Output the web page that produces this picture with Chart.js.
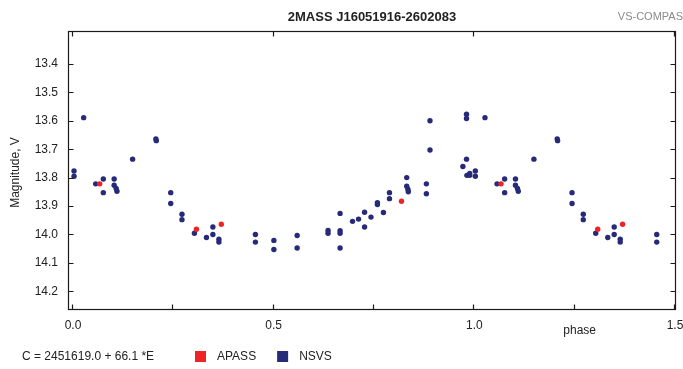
<!DOCTYPE html>
<html>
<head>
<meta charset="utf-8">
<title>2MASS J16051916-2602083</title>
<script src="https://cdn.jsdelivr.net/npm/chart.js@4.4.1/dist/chart.umd.min.js"></script>
<style>
  html, body { margin: 0; padding: 0; background: #fff; }
  #wrap { width: 683px; height: 369px; }
</style>
</head>
<body>
<div id="wrap"><canvas id="lc" width="683" height="369"></canvas></div>
<script>
const titleText = '2MASS J16051916-2602083';
const brandText = 'VS-COMPAS';
const yTitle = 'Magnitude, V';
const xTitle = 'phase';
const ephemText = 'C = 2451619.0 + 66.1 *E';

// phase folded data (phase 0..1), points below 0.5 repeat at phase + 1
const nsvsPhase = [0.005, 0.005, 0.029, 0.059, 0.078, 0.078, 0.105, 0.105, 0.110, 0.112,
  0.151, 0.209, 0.210, 0.246, 0.246, 0.274, 0.274, 0.305, 0.335, 0.351, 0.351, 0.366, 0.366,
  0.457, 0.457, 0.503, 0.503, 0.561, 0.561, 0.638, 0.638, 0.668, 0.668, 0.668, 0.668,
  0.699, 0.714, 0.729, 0.729, 0.745, 0.761, 0.761, 0.776, 0.791, 0.791,
  0.834, 0.834, 0.837, 0.838, 0.883, 0.883, 0.892, 0.892,
  0.974, 0.983, 0.983, 0.983, 0.984, 0.991, 0.991];
const nsvsMag = [13.777, 13.795, 13.589, 13.822, 13.805, 13.853, 13.805, 13.827, 13.838, 13.848,
  13.735, 13.664, 13.670, 13.853, 13.891, 13.929, 13.948, 13.996, 14.011, 13.974, 14.000, 14.017, 14.027,
  14.000, 14.027, 14.021, 14.053, 14.004, 14.048, 13.986, 13.996, 13.926, 13.987, 13.996, 14.048,
  13.954, 13.946, 13.922, 13.974, 13.939, 13.888, 13.895, 13.923, 13.853, 13.874,
  13.800, 13.830, 13.841, 13.850, 13.822, 13.857, 13.600, 13.703,
  13.761, 13.735, 13.577, 13.592, 13.792, 13.785, 13.792];
const apassPhase = [0.069, 0.310, 0.372, 0.821];
const apassMag = [13.822, 13.982, 13.964, 13.883];

const yTicks = [13.4, 13.5, 13.6, 13.7, 13.8, 13.9, 14.0, 14.1, 14.2];
const xMajor = [0.0, 0.5, 1.0, 1.5];
const xMinor = [0.25, 0.75, 1.25];

const navy = '#262a78';
const red = '#ee2326';
const font = '"Liberation Sans", Arial, sans-serif';

function fold(phases, mags) {
    const pts = [];
    for (let i = 0; i < phases.length; i++) {
        pts.push({ x: phases[i], y: mags[i] });
        if (phases[i] + 1 <= 1.5) pts.push({ x: phases[i] + 1, y: mags[i] });
    }
    return pts;
}

const framePlugin = {
    id: 'frame',
    afterDraw(chart) {
        const { ctx, chartArea: a, scales } = chart;
        const xs = scales.x, ys = scales.y;
        const L = Math.round(a.left) + 0.5, R = Math.round(a.right) - 0.5;
        const T = Math.round(a.top) + 0.5, B = Math.round(a.bottom) - 0.5;
        ctx.save();
        ctx.strokeStyle = '#1a1a1a';
        ctx.lineWidth = 1.2;
        ctx.strokeRect(L, T, R - L, B - T);

        ctx.beginPath();
        yTicks.forEach(v => {
            const py = Math.round(ys.getPixelForValue(v)) + 0.5;
            ctx.moveTo(L, py); ctx.lineTo(L + 5, py);
            ctx.moveTo(R, py); ctx.lineTo(R - 5, py);
        });
        xMajor.forEach(v => {
            const px = Math.round(xs.getPixelForValue(v)) + 0.5;
            ctx.moveTo(px, B); ctx.lineTo(px, B - 5);
            ctx.moveTo(px, T); ctx.lineTo(px, T + 5);
        });
        xMinor.forEach(v => {
            const px = Math.round(xs.getPixelForValue(v)) + 0.5;
            ctx.moveTo(px, B); ctx.lineTo(px, B - 5);
        });
        ctx.stroke();

        // tick labels
        ctx.fillStyle = '#222';
        ctx.font = '12px ' + font;
        ctx.textAlign = 'right';
        ctx.textBaseline = 'middle';
        yTicks.forEach(v => {
            ctx.fillText(v.toFixed(1), a.left - 10, ys.getPixelForValue(v));
        });
        ctx.textAlign = 'center';
        xMajor.forEach(v => {
            ctx.fillText(v.toFixed(1), xs.getPixelForValue(v) + 1, a.bottom + 16);
        });
        ctx.fillText(xTitle, xs.getPixelForValue(1.265), a.bottom + 21);

        // axis title
        ctx.save();
        ctx.translate(16, (a.top + a.bottom) / 2 + 2);
        ctx.rotate(-Math.PI / 2);
        ctx.fillText(yTitle, 0, 0);
        ctx.restore();

        // chart title and brand
        ctx.font = 'bold 13px ' + font;
        ctx.fillText(titleText, (a.left + a.right) / 2, 17);
        ctx.font = '11px ' + font;
        ctx.fillStyle = '#8a8a8a';
        ctx.textAlign = 'right';
        ctx.fillText(brandText, 683, 17);

        // ephemeris + legend
        ctx.fillStyle = '#222';
        ctx.font = '12px ' + font;
        ctx.textAlign = 'left';
        const ly = 357;
        ctx.fillText(ephemText, 22, ly);
        let lx = 195;
        chart.data.datasets.forEach(ds => {
            ctx.fillStyle = ds.backgroundColor;
            ctx.fillRect(lx, ly - 6, 11, 11);
            ctx.fillStyle = '#222';
            ctx.fillText(ds.label, lx + 22, ly);
            lx += 22 + ctx.measureText(ds.label).width + 21;
        });
        ctx.restore();
    }
};

new Chart(document.getElementById('lc'), {
    type: 'scatter',
    data: {
        datasets: [
            {
                label: 'APASS',
                data: fold(apassPhase, apassMag),
                backgroundColor: red,
                borderWidth: 0,
                pointRadius: 2.7
            },
            {
                label: 'NSVS',
                data: fold(nsvsPhase, nsvsMag),
                backgroundColor: navy,
                borderWidth: 0,
                pointRadius: 2.7
            }
        ]
    },
    options: {
        responsive: false,
        animation: false,
        layout: {
            padding: { left: 68, top: 31, right: 7, bottom: 59 }
        },
        scales: {
            x: { type: 'linear', display: false, min: -0.01, max: 1.505 },
            y: { type: 'linear', display: false, reverse: true, min: 13.284, max: 14.266 }
        },
        plugins: {
            legend: { display: false },
            tooltip: { enabled: false }
        }
    },
    plugins: [framePlugin]
});
</script>
</body>
</html>
